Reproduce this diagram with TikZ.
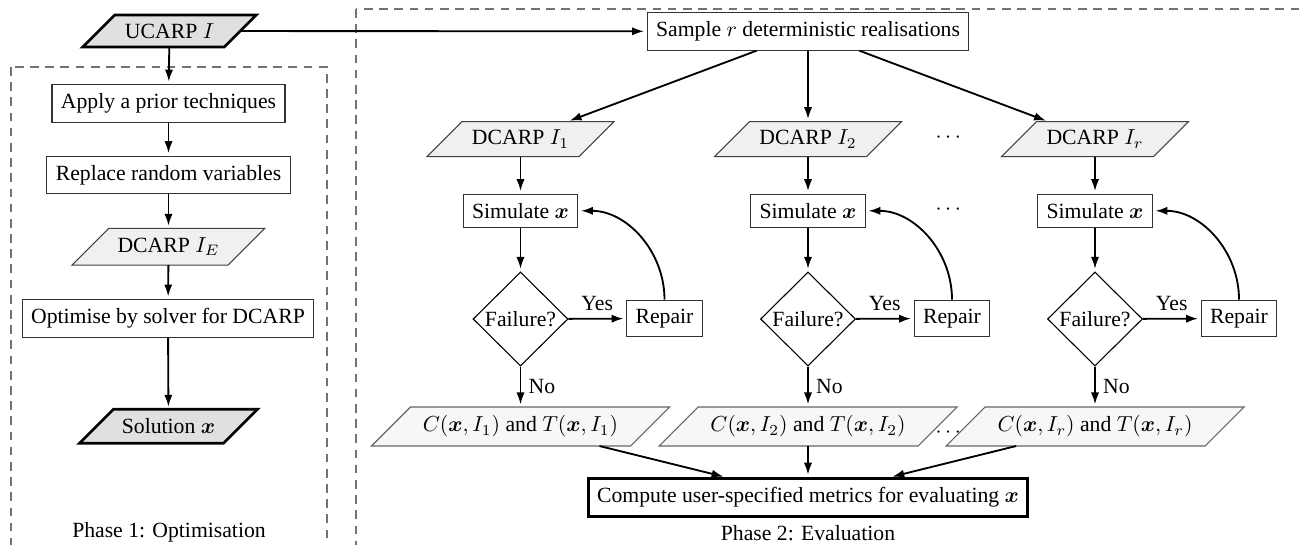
\documentclass[tikz,border=0pt]{standalone}
\usepackage[no-math]{fontspec}
\setmainfont{Liberation Serif}
\usepackage{amsmath}
\usetikzlibrary{shapes.geometric,arrows.meta,calc}

% one drawing unit
\newcommand\px{0.4608pt}
\newcommand\bx{\boldsymbol{x}}

\tikzset{
  arr/.style={line width=0.85pt,-{Latex[length=5.5pt,width=3.8pt]},shorten >=1.2pt},
  proc/.style={draw=black!80,line width=0.5pt,fill=white,inner sep=4.1pt,rectangle},
  boldproc/.style={proc,draw=black,line width=1.25pt},
  decision/.style={diamond,draw=black,line width=0.5pt,aspect=1,inner sep=0pt,
    minimum width=95*\px,minimum height=94*\px},
  paratext/.style={rectangle,inner sep=0pt,outer sep=0pt},
  ioheavy/.style={draw=black,line width=1.25pt,fill=black!12},
  iomid/.style={draw=black!75,line width=0.5pt,fill=black!6},
  iolight/.style={draw=black!60,line width=0.5pt,fill=black!3},
  dashbox/.style={draw=black!55,line width=0.5pt,dash pattern=on 4pt off 3pt},
  caption/.style={inner sep=0pt}
}

% slanted data box: style, name, x, y, middle width, height, text
\newcommand\para[7]{%
  \path[#1] ({#3-#5/2-#6/2},{#4+#6/2}) -- ({#3-#5/2+#6/2},{#4-#6/2})
    -- ({#3+#5/2+#6/2},{#4-#6/2}) -- ({#3+#5/2-#6/2},{#4+#6/2}) -- cycle;
  \node[paratext,minimum width=#5*\px,minimum height=#6*\px] (#2) at (#3,#4) {#7};
}

\begin{document}
\begin{tikzpicture}[x=\px,y=-\px]
\useasboundingbox (0,0) rectangle (1300,544);
\clip (0,0) rectangle (1300,544);

% phase frames
\draw[dashbox] (11,67) rectangle (327,570);
\draw[dashbox] (356,9) rectangle (1330,570);

% ---------- Phase 1 ----------
\para{ioheavy}{ucarp}{169.5}{31}{141.5}{32}{UCARP $I$}
\node[proc] (prior) at (168.5,103.5) {Apply a prior techniques};
\node[proc] (replace) at (168.5,175) {Replace random variables};
\para{iomid}{dE}{168.5}{246.7}{156}{36.7}{DCARP $I_E$}
\node[proc] (optim) at (168,318.5) {Optimise by solver for DCARP};
\para{ioheavy}{sol}{168.5}{426.3}{144}{34}{Solution $\bx$}
\node[caption] (ph1) at (169,532) {Phase 1: Optimisation};

\draw[arr] (ucarp) -- (prior);
\draw[arr] (prior) -- (replace);
\draw[arr] (replace) -- (dE);
\draw[arr] (dE) -- (optim);
\draw[arr] (optim) -- (sol);

% ---------- Phase 2 ----------
\node[proc] (sample) at (808,31.4) {Sample $r$ deterministic realisations};
\draw[arr] (ucarp) -- (sample);

\node (dtop) at (950,138) {$\cdots$};
\node (dmid) at (950,210) {$\cdots$};
\node (dbot) at (950,433) {$\cdots$};

\foreach \c/\cx/\sub in {1/520.5/1, 2/808/2, r/1095/r}{
  \para{iomid}{d\c}{\cx}{139.2}{152}{35}{DCARP $I_{\sub}$}
  \node[proc] (s\c) at (\cx,210.8) {Simulate $\bx$};
  \node[decision] (f\c) at (\cx,319) {Failure?};
  \node[proc] (r\c) at (\cx+144,318.5) {Repair};
  \para{iolight}{o\c}{\cx}{426.5}{259}{39}{$C(\bx,I_{\sub})$ and $T(\bx,I_{\sub})$}
  \draw[arr] (sample) -- (d\c);
  \draw[arr] (d\c) -- (s\c);
  \draw[arr] (s\c) -- (f\c);
  \draw[arr] (f\c) -- node[above] {Yes} (r\c);
  \draw[arr] (r\c.north) to[out=90,in=0] (s\c.east);
  \draw[arr] (f\c) -- node[right] {No} (o\c);
}

\node[boldproc] (metrics) at (808,497.5) {Compute user-specified metrics for evaluating $\bx$};
\foreach \c in {1,2,r}{
  \draw[arr] (o\c) -- (metrics);
}
\node[caption] (ph2) at (808,533) {Phase 2: Evaluation};
\end{tikzpicture}
\end{document}
